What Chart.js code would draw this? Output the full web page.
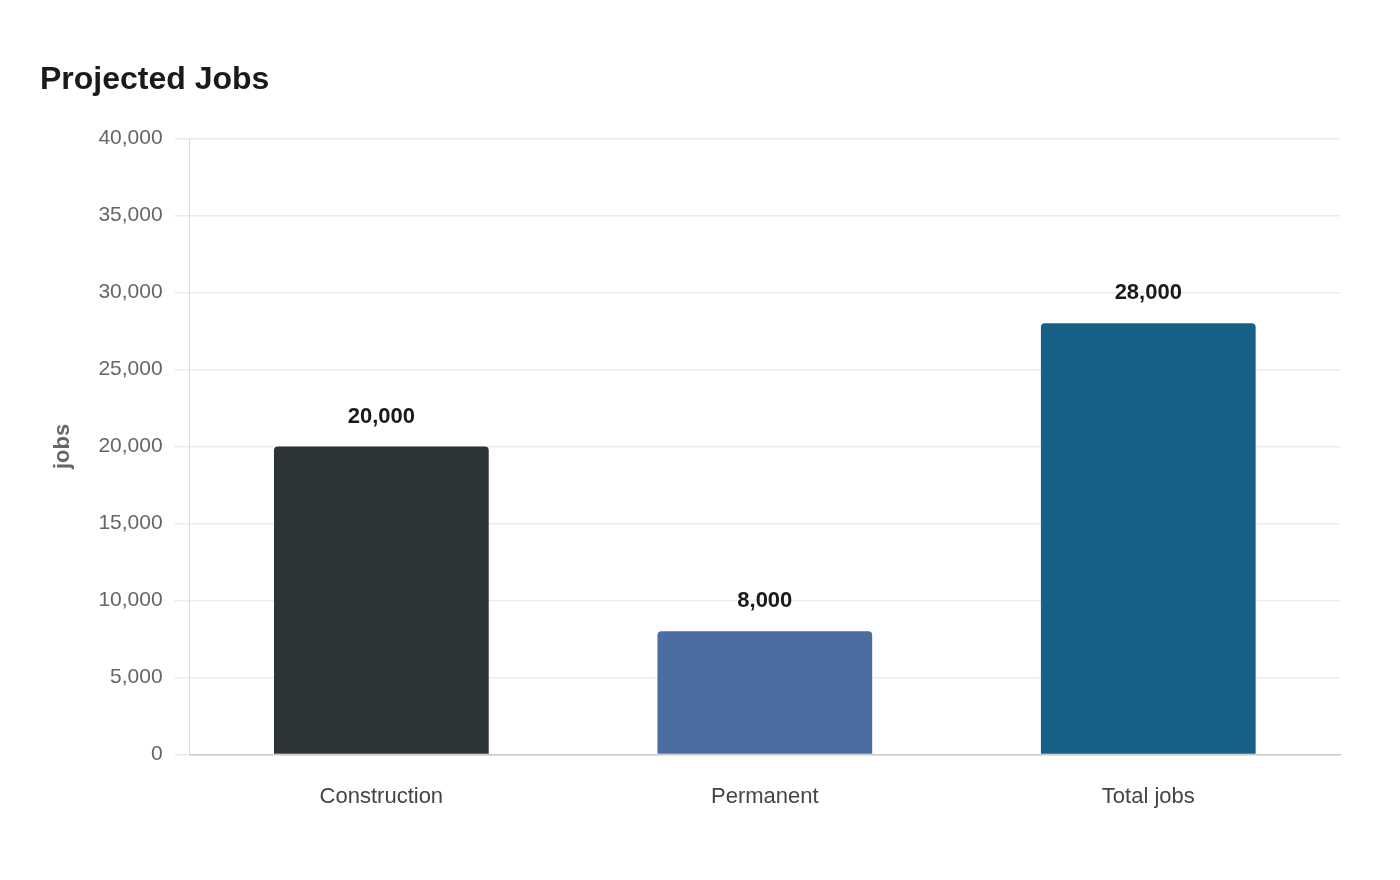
<!DOCTYPE html>
<html>
<head>
<meta charset="utf-8">
<script src="https://cdn.jsdelivr.net/npm/chart.js@4/dist/chart.umd.min.js"></script>
<style>
  html, body { margin: 0; padding: 0; background: #fff; }
  #wrap { width: 1400px; height: 880px; }
</style>
</head>
<body>
<div id="wrap"><canvas id="myChart" width="1400" height="880"></canvas></div>
<script>
const categories = ['Construction', 'Permanent', 'Total jobs'];
const jobs = [20000, 8000, 28000];
const barColors = ['#2d3436', '#4a6ea1', '#176188'];
const yTicks = [0, 5000, 10000, 15000, 20000, 25000, 30000, 35000, 40000];

const fmt = v => v.toLocaleString('en-US');

// value labels above each bar
const valueLabels = {
  id: 'valueLabels',
  afterDatasetsDraw(chart) {
    const ctx = chart.ctx;
    const meta = chart.getDatasetMeta(0);
    ctx.save();
    ctx.font = 'bold 22px "Liberation Sans", Arial, sans-serif';
    ctx.fillStyle = '#1a1a1a';
    ctx.textAlign = 'center';
    ctx.textBaseline = 'middle';
    meta.data.forEach((bar, i) => {
      ctx.fillText(fmt(jobs[i]), bar.x, bar.y - 30);
    });
    ctx.restore();
  }
};

Chart.defaults.font.family = '"Liberation Sans", Arial, sans-serif';

const ctx = document.getElementById('myChart').getContext('2d');
const myChart = new Chart(ctx, {
  type: 'bar',
  data: {
    labels: categories,
    datasets: [{
      label: 'jobs',
      data: jobs,
      backgroundColor: barColors,
      borderRadius: { topLeft: 4, topRight: 4 },
      borderSkipped: 'bottom',
      barPercentage: 0.56,
      categoryPercentage: 1
    }]
  },
  options: {
    responsive: false,
    animation: false,
    layout: { padding: { left: 40, right: 60, top: 0, bottom: 49 } },
    plugins: {
      legend: { display: false },
      tooltip: { enabled: false },
      title: {
        display: true,
        text: 'Projected Jobs',
        align: 'start',
        color: '#1a1a1a',
        font: { size: 32, weight: 'bold' },
        padding: { top: 61, bottom: 39 }
      }
    },
    scales: {
      x: {
        grid: { display: false },
        border: { display: true, color: '#cccccc', width: 1.5 },
        ticks: { color: '#444444', font: { size: 22 }, padding: 21 }
      },
      y: {
        min: 0,
        max: 40000,
        afterBuildTicks(axis) { axis.ticks = yTicks.map(v => ({ value: v })); },
        grid: { color: '#ebebeb', tickLength: 15, lineWidth: 1.5 },
        border: { display: true, color: '#dddddd' },
        ticks: { color: '#666666', font: { size: 21 }, padding: 12, callback: v => fmt(v) },
        title: {
          display: true,
          text: 'jobs',
          color: '#666666',
          font: { size: 22, weight: 'bold' },
          padding: { top: 10, bottom: 10 }
        }
      }
    }
  },
  plugins: [valueLabels]
});
</script>
</body>
</html>
